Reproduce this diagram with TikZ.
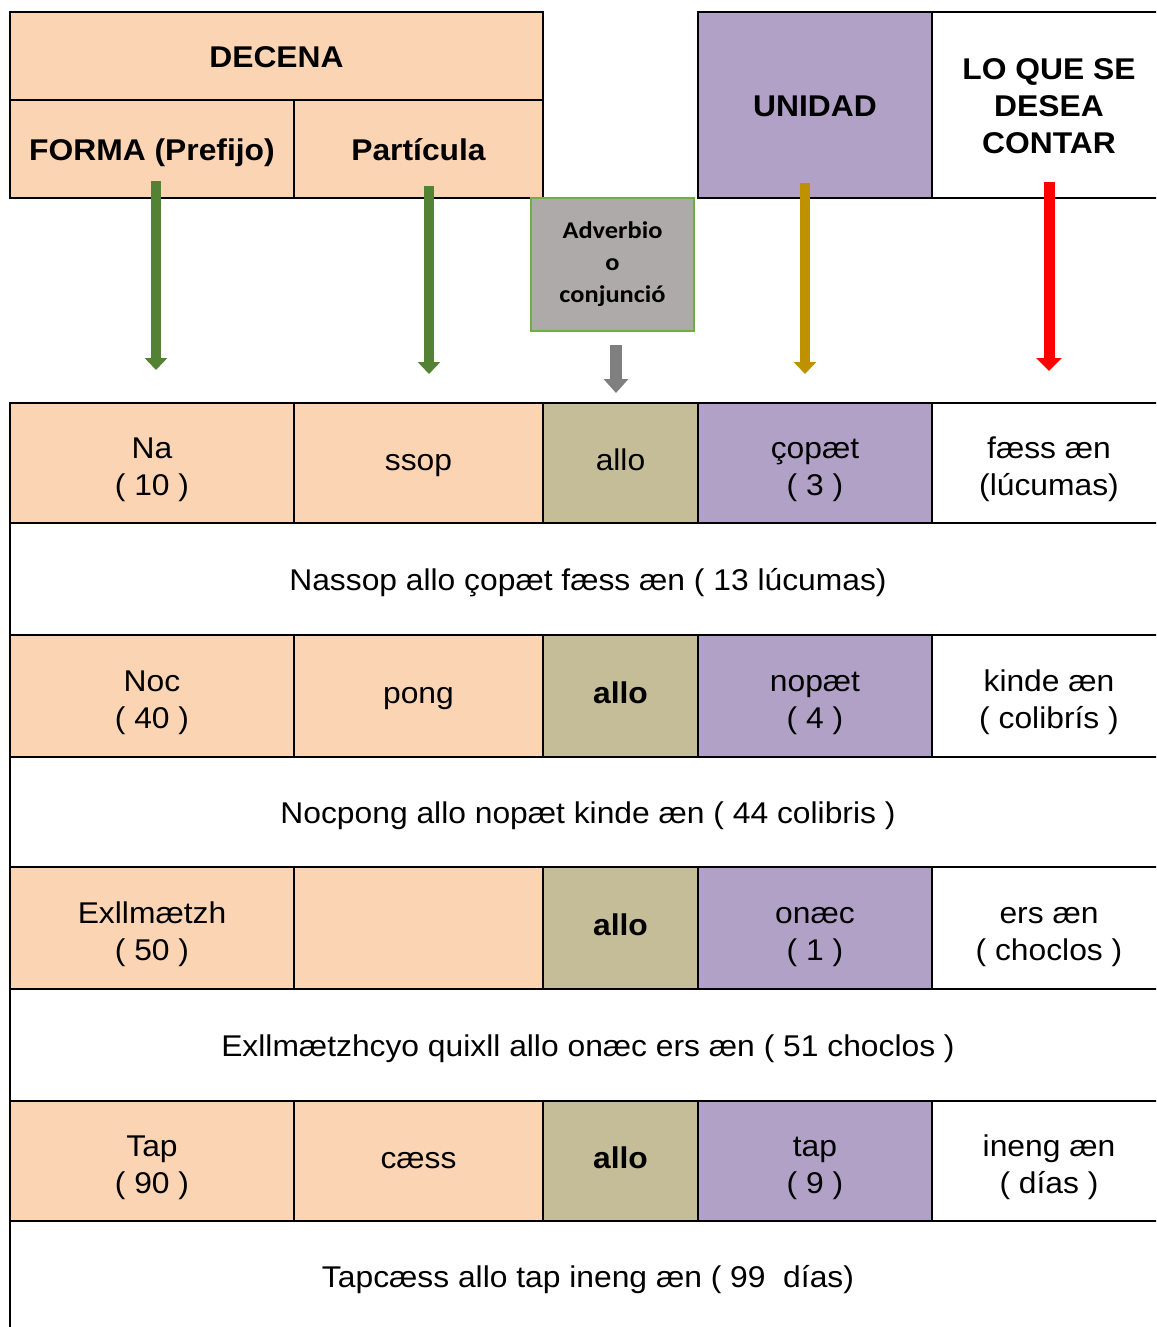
\documentclass[tikz,border=0pt]{standalone}
\usepackage{fontspec}
\setmainfont[FakeStretch=1.06]{Liberation Sans}
\newfontfamily\calibrifont[FakeStretch=1.1]{Carlito}
\usetikzlibrary{arrows.meta}

\definecolor{peach}{HTML}{FBD4B4}
\definecolor{olive}{HTML}{C4BD97}
\definecolor{lilac}{HTML}{B2A1C7}
\definecolor{boxgray}{HTML}{AEAAAA}
\definecolor{boxgreen}{HTML}{70AD47}
\definecolor{leafgreen}{HTML}{548235}
\definecolor{goldbrown}{HTML}{BF9000}
\definecolor{arrowgray}{HTML}{7F7F7F}

% a table cell spanning (x1,y1)-(x2,y2): name, x1, y1, x2, y2, box style, text style, text
\newcommand\tcell[8]{%
  \node[cellbox, #6, minimum width={#4-#2}, minimum height={#5-#3}] (#1) at (#2,#3) {};
  \node[celltext, #7] at (#1.center) {\strut#8\strut};}

\begin{document}
\begin{tikzpicture}[x=1pt, y=-1pt,
  cellbox/.style={anchor=north west, inner sep=0pt, outer sep=0pt},
  celltext/.style={inner sep=0pt, outer sep=0pt, align=center,
    font=\fontsize{30}{37}\selectfont},
  headbox/.style={draw=black, line width=2pt},
  headtext/.style={yshift=-4pt, font=\fontsize{30}{37}\selectfont\bfseries},
  plain/.style={},
  twoline/.style={yshift=-7pt},
  sentence/.style={yshift=-4pt},
  gridline/.style={line width=2pt, black},
  fatarrow/.style={line width=10pt, -{Triangle[width=22pt,length=12pt]}},
]
\useasboundingbox (0,0) rectangle (1156,1327);
\clip (0,0) rectangle (1156,1327);

% ---------- header ----------
\tcell{decena}{10}{12}{543}{100}{headbox, fill=peach}{headtext}{DECENA}
\tcell{forma}{10}{100}{294}{198}{headbox, fill=peach}{headtext}{FORMA (Prefijo)}
\tcell{particula}{294}{100}{543}{198}{headbox, fill=peach}{headtext}{Partícula}
\tcell{unidad}{698}{12}{932}{198}{headbox, fill=lilac}{headtext}{UNIDAD}
\tcell{contar}{932}{12}{1166}{198}{headbox, fill=white}{headtext}{LO QUE SE\\DESEA\\CONTAR}

\node[anchor=north west, inner sep=0pt, outer sep=0pt, draw=boxgreen, line width=2pt,
  fill=boxgray, minimum width=163pt, minimum height=133pt, align=center,
  font=\calibrifont\fontsize{24}{32}\selectfont\bfseries] (adverbio) at (531,198)
  {\strut Adverbio\\o\\conjunció\strut};

% ---------- body cells ----------
% row 1
\tcell{r1a}{10}{403}{294}{523}{fill=peach}{twoline}{Na\\( 10 )}
\tcell{r1b}{294}{403}{543}{523}{fill=peach}{plain}{ssop}
\tcell{r1c}{543}{403}{698}{523}{fill=olive}{plain}{allo}
\tcell{r1d}{698}{403}{932}{523}{fill=lilac}{twoline}{çopæt\\( 3 )}
\tcell{r1e}{932}{403}{1166}{523}{fill=white}{twoline}{fæss æn\\(lúcumas)}
\tcell{s1}{10}{523}{1166}{635}{fill=white}{sentence}{Nassop allo çopæt fæss æn ( 13 lúcumas)}
% row 2
\tcell{r2a}{10}{635}{294}{757}{fill=peach}{twoline}{Noc\\( 40 )}
\tcell{r2b}{294}{635}{543}{757}{fill=peach}{plain}{pong}
\tcell{r2c}{543}{635}{698}{757}{fill=olive}{plain}{\bfseries allo}
\tcell{r2d}{698}{635}{932}{757}{fill=lilac}{twoline}{nopæt\\( 4 )}
\tcell{r2e}{932}{635}{1166}{757}{fill=white}{twoline}{kinde æn\\( colibrís )}
\tcell{s2}{10}{757}{1166}{867}{fill=white}{sentence}{Nocpong allo nopæt kinde æn ( 44 colibris )}
% row 3
\tcell{r3a}{10}{867}{294}{989}{fill=peach}{twoline}{Exllmætzh\\( 50 )}
\tcell{r3b}{294}{867}{543}{989}{fill=peach}{plain}{}
\tcell{r3c}{543}{867}{698}{989}{fill=olive}{plain}{\bfseries allo}
\tcell{r3d}{698}{867}{932}{989}{fill=lilac}{twoline}{onæc\\( 1 )}
\tcell{r3e}{932}{867}{1166}{989}{fill=white}{twoline}{ers æn\\( choclos )}
\tcell{s3}{10}{989}{1166}{1101}{fill=white}{sentence}{Exllmætzhcyo quixll allo onæc ers æn ( 51 choclos )}
% row 4
\tcell{r4a}{10}{1101}{294}{1221}{fill=peach}{twoline}{Tap\\( 90 )}
\tcell{r4b}{294}{1101}{543}{1221}{fill=peach}{plain}{cæss}
\tcell{r4c}{543}{1101}{698}{1221}{fill=olive}{plain}{\bfseries allo}
\tcell{r4d}{698}{1101}{932}{1221}{fill=lilac}{twoline}{tap\\( 9 )}
\tcell{r4e}{932}{1101}{1166}{1221}{fill=white}{twoline}{ineng æn\\( días )}
\tcell{s4}{10}{1221}{1166}{1340}{fill=white}{plain}{Tapcæss allo tap ineng æn ( 99\ \ días)}

% ---------- grid ----------
\foreach \yy in {403,523,635,757,867,989,1101,1221}
  \draw[gridline] (9,\yy) -- (1166,\yy);
\draw[gridline] (10,402) -- (10,1340);
\foreach \yy/\yb in {403/523,635/757,867/989,1101/1221}
  \foreach \xx in {294,543,698,932}
    \draw[gridline] (\xx,\yy) -- (\xx,\yb);

% ---------- arrows ----------
\coordinate (fa-s) at (156,181);  \coordinate (fa-e) at (156,370);
\coordinate (pa-s) at (429,186);  \coordinate (pa-e) at (429,374);
\coordinate (ad-s) at (616,345);  \coordinate (ad-e) at (616,393);
\coordinate (un-s) at (805,183);  \coordinate (un-e) at (805,374);
\coordinate (co-s) at (1049,182); \coordinate (co-e) at (1049,371);

\draw[fatarrow, leafgreen] (fa-s) -- (fa-e);
\draw[fatarrow, leafgreen] (pa-s) -- (pa-e);
\draw[fatarrow, arrowgray, line width=12pt, -{Triangle[width=24pt,length=14pt]}] (ad-s) -- (ad-e);
\draw[fatarrow, goldbrown] (un-s) -- (un-e);
\draw[fatarrow, red, line width=11pt, -{Triangle[width=25pt,length=13pt]}] (co-s) -- (co-e);
\end{tikzpicture}
\end{document}
